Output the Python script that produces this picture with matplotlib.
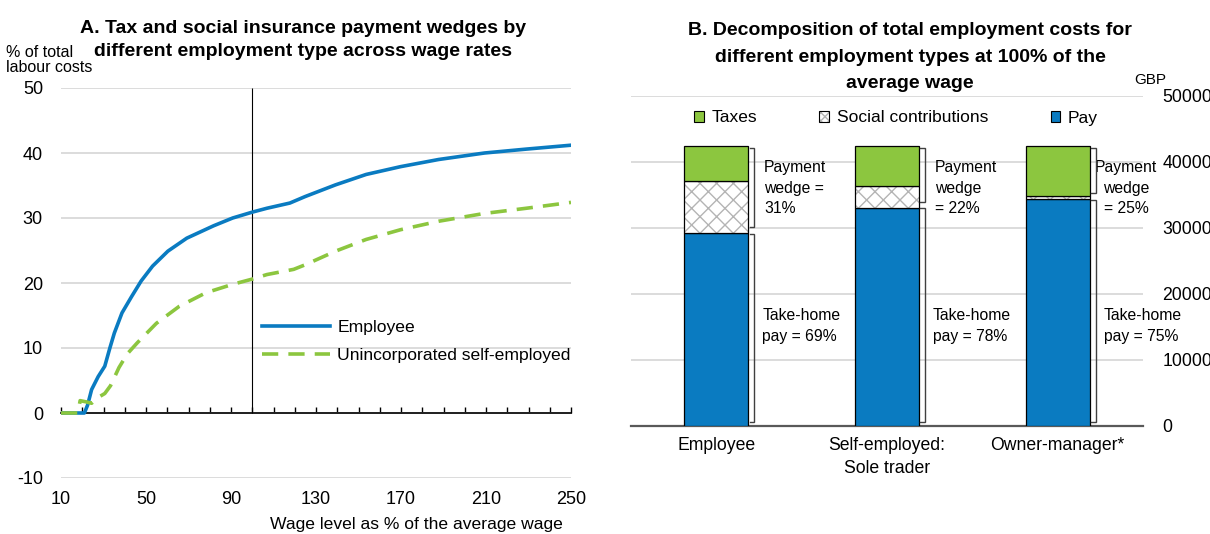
import matplotlib
matplotlib.use("Agg")
import matplotlib.pyplot as plt
from matplotlib.patches import Patch
from matplotlib.legend_handler import HandlerTuple
from matplotlib.ticker import MultipleLocator

plt.rcParams["font.family"] = ["Liberation Sans Narrow", "Liberation Sans", "DejaVu Sans"]
plt.rcParams["hatch.linewidth"] = 1.0
plt.rcParams["axes.unicode_minus"] = False

BLUE = "#0a7bc1"
GREEN = "#8cc63f"
GRID = "#d9d9d9"
HATCH = "#b4b4b4"

# Panel A: payment wedge (% of total labour costs) by wage level (% of average wage)
emp_wage = [10, 21, 22.5, 24.4, 27.5, 30.6, 33, 35.1, 38.7, 43.2, 47.7, 53.1, 60.3, 69.2,
            81.8, 90.8, 100, 106.9, 117.7, 124.9, 139.2, 153.6, 169.8, 187.7, 209.3, 229, 250]
emp_wedge = [0, 0, 1.2, 3.6, 5.6, 7.2, 10.0, 12.3, 15.4, 17.9, 20.3, 22.6, 24.9, 26.9,
             28.8, 30.0, 30.9, 31.5, 32.3, 33.3, 35.1, 36.7, 37.9, 39.0, 40.0, 40.6, 41.2]

se_wage = [10, 18, 19, 22, 24.4, 27, 30.6, 33.3, 37.3, 41.2, 45.9, 54.9, 65.6, 78.2, 90.8,
           100, 106.9, 119.5, 124.9, 139.2, 153.6, 169.8, 187.7, 209.2, 229, 250]
se_wedge = [0, 0, 1.9, 1.7, 1.5, 2.3, 3.0, 4.2, 7.0, 9.1, 10.8, 13.8, 16.4, 18.5, 19.8,
            20.6, 21.3, 22.1, 22.8, 24.9, 26.7, 28.2, 29.5, 30.7, 31.5, 32.4]

# Panel B: total employment costs at 100% of the average wage, GBP
emp_types = ["Employee", "Self-employed:\nSole trader", "Owner-manager*"]
pay = [29200, 33000, 34300]
social = [7800, 3300, 500]
taxes = [5300, 6000, 7500]
wedge_labels = ["Payment\nwedge =\n31%", "Payment\nwedge\n= 22%", "Payment\nwedge\n= 25%"]
takehome_labels = ["Take-home\npay = 69%", "Take-home\npay = 78%", "Take-home\npay = 75%"]

fig = plt.figure(figsize=(12.1, 5.34), dpi=100)
W, H = 1210, 534

# ---- panel A ----
axA = fig.add_axes([61 / W, 1 - 478 / H, 510 / W, 390 / H])
axA.set_xlim(10, 250)
axA.set_ylim(-10, 50)
axA.set_yticks(range(-10, 51, 10))
axA.yaxis.grid(True, color=GRID, lw=1.3)
axA.set_axisbelow(True)
for s in ["top", "right", "left"]:
    axA.spines[s].set_visible(False)
axA.spines["bottom"].set_position(("data", 0))
axA.spines["bottom"].set_linewidth(1.2)
axA.set_xticks(range(10, 251, 40))
axA.xaxis.set_minor_locator(MultipleLocator(10))
axA.tick_params(axis="x", which="both", direction="in", length=4.5, width=1.0,
                pad=56, labelsize=13)
axA.tick_params(axis="y", length=0, pad=13, labelsize=13)

axA.vlines(100, 0, 50, color="black", lw=0.8, zorder=2)
axA.plot(emp_wage, emp_wedge, color=BLUE, lw=2.6, label="Employee", zorder=3)
axA.plot(se_wage, se_wedge, color=GREEN, lw=2.6, dashes=(4.5, 2.8),
         label="Unincorporated self-employed", zorder=3)
axA.legend(loc="upper left", bbox_to_anchor=((262 - 61) / 510, (478 - 320) / 390),
           frameon=False, fontsize=12.6, handlelength=3.9, handletextpad=0.4,
           labelspacing=0.72, borderpad=0, borderaxespad=0)

fig.text(303 / W, 1 - 40 / H,
         "A. Tax and social insurance payment wedges by\ndifferent employment type across wage rates",
         ha="center", va="center", fontsize=14, weight="bold", linespacing=1.42)
fig.text(6 / W, 1 - 60 / H, "% of total\nlabour costs", ha="left", va="center",
         fontsize=11.5, linespacing=1.05)
fig.text(563 / W, 1 - 524 / H, "Wage level as % of the average wage",
         ha="right", va="center", fontsize=12.6)

# ---- panel B ----
axB = fig.add_axes([631 / W, 1 - 425.6 / H, 512 / W, 330 / H])
xs = range(len(emp_types))
bw = 0.375
axB.bar(xs, pay, bw, color=BLUE, edgecolor="black", lw=0.9, zorder=3)
bot = [p for p in pay]
# hatch drawn in light grey, outline added on top in black
axB.bar(xs, social, bw, bottom=bot, color="white", edgecolor=HATCH, lw=0,
        hatch="xx", zorder=3)
axB.bar(xs, social, bw, bottom=bot, fill=False, edgecolor="black", lw=0.9, zorder=3)
bot = [p + s for p, s in zip(pay, social)]
axB.bar(xs, taxes, bw, bottom=bot, color=GREEN, edgecolor="black", lw=0.9, zorder=3)

axB.set_xlim(-0.5, 2.5)
axB.set_ylim(0, 50000)
axB.set_yticks(range(0, 50001, 10000))
axB.yaxis.tick_right()
axB.yaxis.grid(True, color=GRID, lw=1.3)
axB.set_axisbelow(True)
for s in ["top", "right", "left"]:
    axB.spines[s].set_visible(False)
axB.spines["bottom"].set_color("#595959")
axB.spines["bottom"].set_linewidth(1.6)
axB.set_xticks(list(xs))
axB.set_xticklabels(emp_types, fontsize=12.7, linespacing=1.45)
axB.tick_params(axis="x", length=0, pad=8)
axB.tick_params(axis="y", length=0, pad=14, labelsize=12.7)
for lab in axB.get_yticklabels():
    lab.set_horizontalalignment("left")


def bracket(ax, x, y0, y1, w=0.028):
    ax.plot([x - w, x, x, x - w], [y0, y0, y1, y1], color="#404040", lw=1.0,
            zorder=4, solid_joinstyle="miter")


for i in xs:
    total = pay[i] + social[i] + taxes[i]
    bx = i + bw / 2 + 0.035
    bracket(axB, bx, 500, pay[i] - 100)
    bracket(axB, bx, pay[i] + 900, total - 200)
    if i == 2:
        axB.text(i + 0.4, 36000, wedge_labels[i], ha="center", va="center",
                 fontsize=11.3, linespacing=1.46)
    else:
        axB.text(i + 0.28, 36000, wedge_labels[i], ha="left", va="center",
                 fontsize=11.3, linespacing=1.46)
    axB.text(i + 0.27, 15100, takehome_labels[i], ha="left", va="center",
             fontsize=11.3, linespacing=1.46)

sc_hatch = Patch(facecolor="white", edgecolor=HATCH, lw=0, hatch="xxxx")
sc_edge = Patch(fill=False, edgecolor="black", lw=0.8)
handles = [Patch(facecolor=GREEN, edgecolor="black", lw=0.8),
           (sc_hatch, sc_edge),
           Patch(facecolor=BLUE, edgecolor="black", lw=0.8)]
axB.legend(handles, ["Taxes", "Social contributions", "Pay"], ncol=3,
           handler_map={tuple: HandlerTuple(ndivide=1, pad=0)},
           loc="center left", bbox_to_anchor=((694 - 631) / 512, (425.6 - 118) / 330),
           frameon=False, fontsize=12.5, handlelength=0.55, handleheight=0.55,
           handletextpad=0.45, columnspacing=3.6, borderpad=0, borderaxespad=0)

fig.text(910 / W, 1 - 57 / H,
         "B. Decomposition of total employment costs for\ndifferent employment types at 100% of the\naverage wage",
         ha="center", va="center", fontsize=14, weight="bold", linespacing=1.7)
fig.text(1134 / W, 1 - 80 / H, "GBP", ha="left", va="center", fontsize=11)

fig.savefig("out.png", dpi=100)
